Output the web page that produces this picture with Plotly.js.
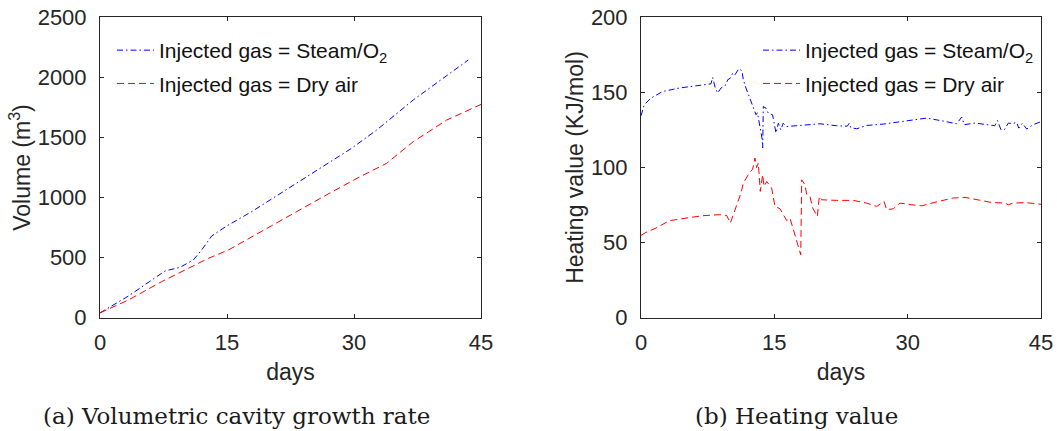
<!DOCTYPE html>
<html>
<head>
<meta charset="utf-8">
<script src="https://cdn.plot.ly/plotly-3.0.1.min.js"></script>
<style>
  html, body { margin: 0; padding: 0; background: #fff; }
  #chart { width: 1057px; height: 431px; }
</style>
</head>
<body>
<div id="chart"></div>
<script>
// ---- Data ----
const xTicks = [0, 15, 30, 45];

// (a) Volumetric cavity growth
const volDaysSteam = [0, 3.35, 7.68, 9.45, 11.02, 12.0, 13.19, 14.96, 17.9, 21.6, 26.37, 29.72, 32.68, 37.0, 43.5];
const volSteam     = [40, 180, 389, 419, 480, 563, 680, 763, 882, 1045, 1257, 1410, 1562, 1812, 2145];
const volDaysAir   = [0, 3.35, 7.28, 9.65, 11.2, 12.8, 15.15, 18.3, 22.0, 26.37, 30.7, 33.86, 37.0, 40.95, 45];
const volAir       = [40, 147, 300, 383, 439, 494, 563, 688, 835, 1007, 1173, 1285, 1465, 1645, 1775];

// (b) Heating value
const hvDaysSteam = [0, 0.37, 1.12, 2.44, 4.31, 6.19, 7.87, 8.06, 8.36, 8.63,
  9.0, 9.56, 9.75, 10.05, 10.31, 10.57, 10.99, 11.36, 11.51, 11.81,
  12.37, 12.75, 12.94, 13.1, 13.39, 13.61, 13.69, 13.76, 14.06, 14.32,
  14.8, 15.19, 15.45, 15.72, 16.0, 16.39, 17.89, 20.14, 22.02, 23.2,
  23.43, 23.6, 24.27, 25.39, 27.26, 29.51, 30.45, 32.14, 34.2, 35.52,
  36.08, 36.37, 37.57, 38.9, 39.8, 40.1, 40.5, 40.9, 41.32, 41.8,
  42.26, 42.5, 42.9, 43.4, 44.1, 45];
const hvSteam = [134.4, 141.8, 146.2, 150.6, 152.9, 154.6, 155.7, 160, 152.9, 149.6,
  152.9, 155.1, 158.4, 159.5, 162.8, 161.7, 165.7, 164.4, 158.4, 152.9,
  144, 138.4, 135.1, 136.5, 125.1, 119.6, 113, 140.6, 139.5, 136.2,
  135.1, 122.9, 129.5, 125.1, 129.5, 127.3, 128, 129.1, 127.8, 127.5,
  129.5, 126.5, 125.8, 128, 128.9, 130.7, 131.8, 132.9, 130.7, 129.1,
  133.6, 128.5, 129.6, 128.5, 127.8, 131.3, 125.1, 125.3, 129.6, 129.2,
  130, 126.2, 129.5, 125.6, 128.5, 130.5];
const hvDaysAir = [0, 0.56, 1.69, 3.19, 5.06, 6.94, 8.81, 9.64, 10.05, 10.3,
  10.69, 11.25, 11.51, 12.18, 12.56, 12.82, 13.0, 13.2, 13.42, 13.69,
  13.84, 14.14, 14.7, 15.07, 15.64, 15.94, 16.39, 16.76, 17.13, 17.52,
  17.97, 18.08, 18.45, 18.64, 19.01, 19.32, 19.84, 20.06, 20.33, 22.02,
  23.88, 25.39, 26.52, 27.34, 27.64, 28.38, 29.14, 30.45, 31.58, 33.45,
  35.14, 36.45, 37.57, 39.45, 40.95, 41.32, 41.8, 43.2, 45];
const hvAir = [54.8, 56.8, 59.7, 64.6, 66.3, 67.9, 68.6, 68.1, 63, 67,
  74.1, 83, 89.6, 96.3, 98.9, 106.3, 100, 103, 84.1, 95.2,
  87.4, 90.7, 86.3, 74.1, 72.5, 69.7, 64.6, 66.3, 58.6, 50.8,
  41.9, 91.8, 88.5, 81.9, 80.7, 73, 67.4, 80.7, 78.5, 78.1,
  78.1, 76.3, 74.1, 77.4, 71.9, 72.5, 76.3, 75.2, 74.5, 77.4,
  79.7, 80.1, 78.8, 76.7, 76.3, 75.2, 76.2, 76.7, 75.5];

const nameSteam = 'Injected gas = Steam/O<sub>2</sub>';
const nameAir = 'Injected gas = Dry air';
const captionA = '(a) Volumetric cavity growth rate';
const captionB = '(b) Heating value';

// ---- Styling ----
const W = 1057, H = 431;
const axCol = '#262626';
const sans = 'Liberation Sans, Arial, Helvetica, sans-serif';
const serif = 'DejaVu Serif, Liberation Serif, serif';
const blueLine = {color: 'rgb(0,0,255)', width: 1, dash: '6px,3px,1.5px,3px'};
const redLine  = {color: 'rgb(255,0,0)', width: 1, dash: '7px,4px'};

const traces = [
  {x: volDaysSteam, y: volSteam, xaxis: 'x', yaxis: 'y', mode: 'lines', name: nameSteam,
   line: blueLine, legend: 'legend', legendgroup: 'a1'},
  {x: volDaysAir, y: volAir, xaxis: 'x', yaxis: 'y', mode: 'lines', name: nameAir,
   line: redLine, legend: 'legend', legendgroup: 'a2'},
  {x: hvDaysSteam, y: hvSteam, xaxis: 'x2', yaxis: 'y2', mode: 'lines', name: nameSteam,
   line: blueLine, legend: 'legend2', legendgroup: 'b1'},
  {x: hvDaysAir, y: hvAir, xaxis: 'x2', yaxis: 'y2', mode: 'lines', name: nameAir,
   line: redLine, legend: 'legend2', legendgroup: 'b2'}
];

const yDom = [(H - 317.7) / H, (H - 17.3) / H];

function xAxis(domain, anchor) {
  return {
    domain: domain, anchor: anchor, range: [0, 45], tickvals: xTicks,
    ticks: 'inside', ticklen: 4, tickwidth: 1, tickcolor: axCol,
    showline: true, linecolor: axCol, linewidth: 1, mirror: 'ticks',
    showgrid: false, zeroline: false, ticklabelstandoff: 5,
    tickfont: {family: sans, size: 22, color: axCol},
    title: {text: 'days', font: {family: sans, size: 23, color: axCol}, standoff: 9}
  };
}
function yAxis(range, dtick, anchor, title, standoff) {
  return {
    domain: yDom, anchor: anchor, range: range, dtick: dtick, tick0: 0,
    ticks: 'inside', ticklen: 4, tickwidth: 1, tickcolor: axCol,
    showline: true, linecolor: axCol, linewidth: 1, mirror: 'ticks',
    showgrid: false, zeroline: false, ticklabelstandoff: 8,
    tickfont: {family: sans, size: 22, color: axCol},
    title: {text: title, font: {family: sans, size: 23, color: axCol}, standoff: standoff}
  };
}

const legendBase = {
  xanchor: 'left', yanchor: 'top', bgcolor: 'rgba(0,0,0,0)', borderwidth: 0,
  itemwidth: 37,
  font: {family: sans, size: 21, color: '#111'}, tracegroupgap: 3
};

const layout = {
  width: W, height: H,
  margin: {l: 0, r: 0, t: 0, b: 0},
  paper_bgcolor: '#fff', plot_bgcolor: '#fff',
  showlegend: true,
  xaxis: xAxis([100 / W, 481 / W], 'y'),
  yaxis: yAxis([0, 2500], 500, 'x', 'Volume (m<sup>3</sup>)', 0),
  xaxis2: xAxis([641 / W, 1041 / W], 'y2'),
  yaxis2: yAxis([0, 200], 50, 'x2', 'Heating value (KJ/mol)', 0),
  legend: Object.assign({}, legendBase, {x: 112 / W, y: (H - 30) / H}),
  legend2: Object.assign({}, legendBase, {x: 758 / W, y: (H - 30) / H}),
  annotations: [
    {text: captionA, xref: 'paper', yref: 'paper', x: 236 / W, y: (H - 415.5) / H,
     xanchor: 'center', yanchor: 'middle', showarrow: false,
     font: {family: serif, size: 23, color: '#1a1a1a'}},
    {text: captionB, xref: 'paper', yref: 'paper', x: 796 / W, y: (H - 415.5) / H,
     xanchor: 'center', yanchor: 'middle', showarrow: false,
     font: {family: serif, size: 23, color: '#1a1a1a'}}
  ]
};

Plotly.newPlot('chart', traces, layout, {staticPlot: true, displayModeBar: false});
</script>
</body>
</html>
